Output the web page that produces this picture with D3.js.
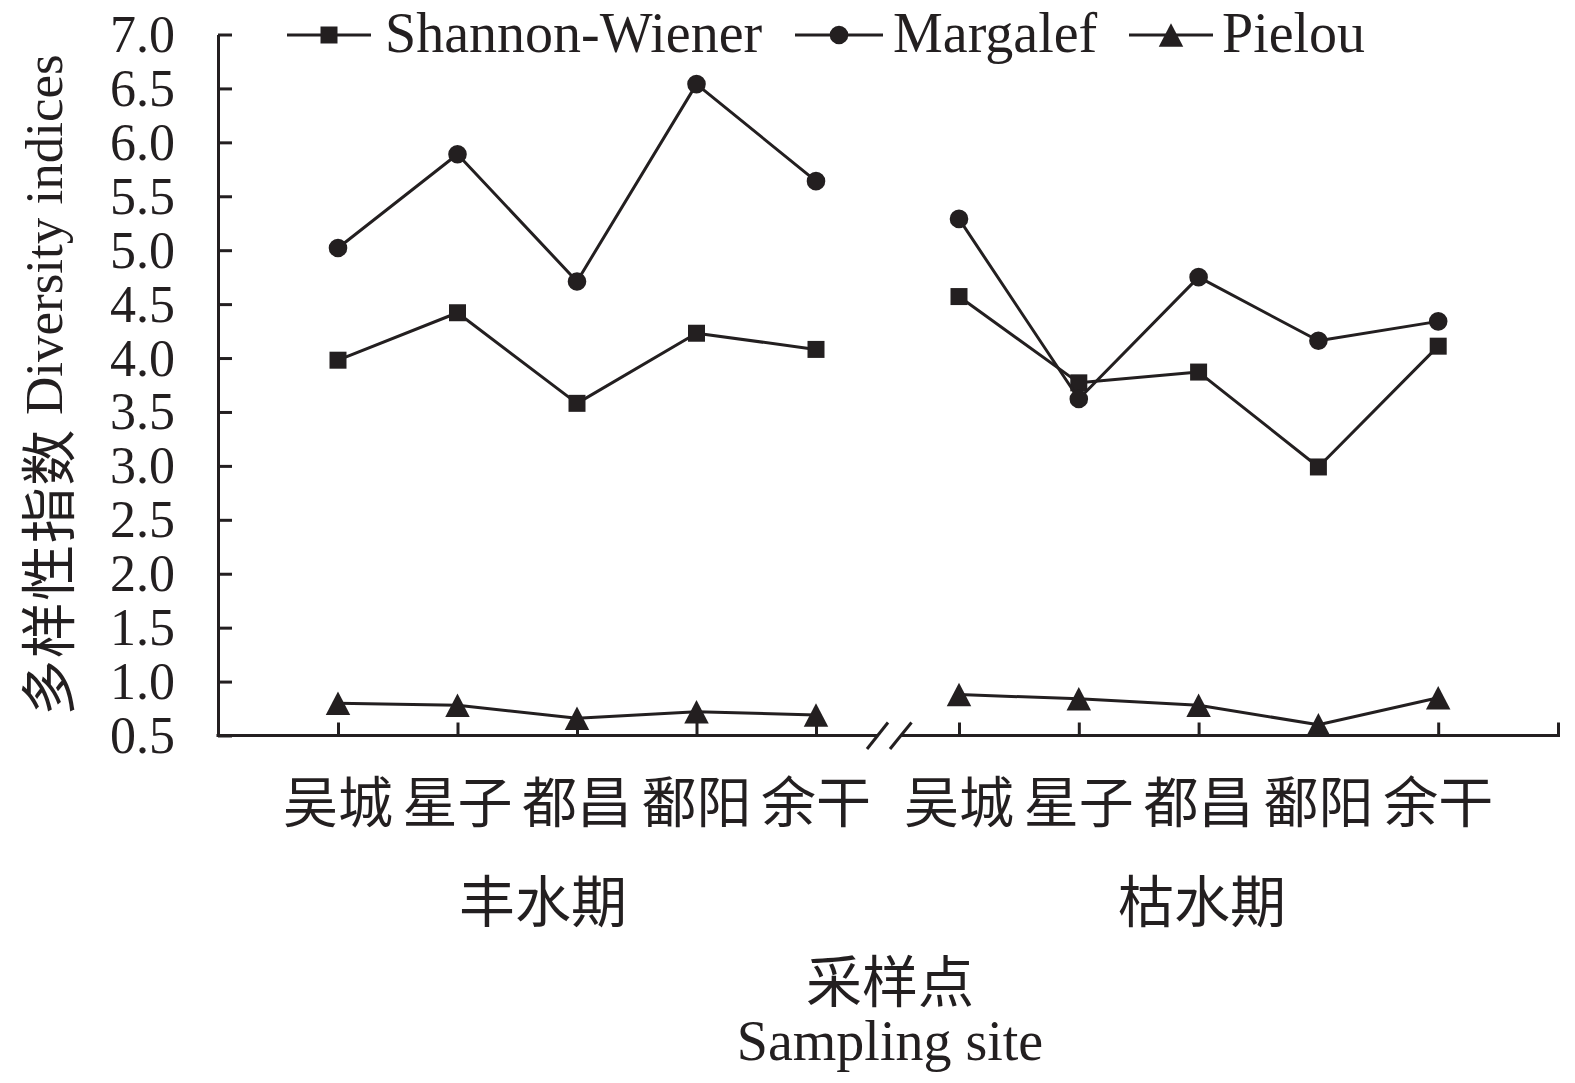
<!DOCTYPE html>
<html>
<head>
<meta charset="utf-8">
<script src="https://cdn.jsdelivr.net/npm/d3@7"></script>
<style>
  html, body { margin: 0; padding: 0; background: #fff; }
  svg { display: block; }
  text { fill: #231f20; }
</style>
</head>
<body>
<svg id="chart" width="1575" height="1083"></svg>
<script>
// ---- data ----
const sites = ["吴城", "星子", "都昌", "鄱阳", "余干"];
const periods = ["丰水期", "枯水期"];
const seriesNames = ["Shannon-Wiener", "Margalef", "Pielou"];
const shannonWet = [3.98, 4.42, 3.58, 4.23, 4.08];
const shannonDry = [4.57, 3.77, 3.87, 2.99, 4.11];
const margalefWet = [5.02, 5.89, 4.71, 6.54, 5.64];
const margalefDry = [5.29, 3.62, 4.75, 4.16, 4.34];
const pielouWet = [0.80, 0.78, 0.66, 0.72, 0.69];
const pielouDry = [0.88, 0.84, 0.78, 0.60, 0.85];
const yTicks = [0.5, 1.0, 1.5, 2.0, 2.5, 3.0, 3.5, 4.0, 4.5, 5.0, 5.5, 6.0, 6.5, 7.0];
const yTitleCn = "多样性指数";
const yTitleEn = "Diversity indices";
const xTitleCn = "采样点";
const xTitleEn = "Sampling site";

// ---- layout ----
const INK = "#231f20";
const svg = d3.select("#chart");
const axisX0 = 218, axisY0 = 735.5;
const y = d3.scaleLinear().domain([0.5, 7.0]).range([735.5, 34.5]);
const xWet = d3.scaleLinear().domain([0, 4]).range([338, 816]);
const xDry = d3.scaleLinear().domain([0, 5]).range([959, 1558]);
const serif = "'Liberation Serif','Times New Roman','Noto Sans CJK SC',serif";
const cjk = "'Noto Sans CJK SC','Liberation Serif',sans-serif";

// symbols
const triSym = {
  draw(ctx, size) {
    const w = Math.sqrt(size) * 1.02, h = Math.sqrt(size) * 0.98;
    ctx.moveTo(0, -h / 2);
    ctx.lineTo(w / 2, h / 2);
    ctx.lineTo(-w / 2, h / 2);
    ctx.closePath();
  }
};
const symbols = [
  d3.symbol().type(d3.symbolSquare).size(17 * 17),
  d3.symbol().type(d3.symbolCircle).size(Math.PI * 9.3 * 9.3),
  d3.symbol().type(triSym).size(24 * 24)
];

// ---- y axis ----
const yAxis = d3.axisRight(y).tickValues(yTicks).tickSize(14).tickSizeOuter(0).tickFormat("");
const gy = svg.append("g").attr("transform", `translate(${axisX0},0)`).call(yAxis);
gy.selectAll("path.domain").attr("stroke", INK).attr("stroke-width", 3);
gy.selectAll(".tick line").attr("stroke", INK).attr("stroke-width", 3);

svg.append("g").selectAll("text").data(yTicks).join("text")
  .attr("x", 175).attr("y", d => y(d))
  .attr("text-anchor", "end").attr("dominant-baseline", "central")
  .attr("font-family", serif).attr("font-size", 52)
  .text(d => d3.format(".1f")(d));

const yt = svg.append("text")
  .attr("transform", "translate(44,385) rotate(-90)")
  .attr("text-anchor", "middle").attr("dominant-baseline", "central");
yt.append("tspan").attr("font-family", cjk).attr("font-size", 56).attr("letter-spacing", 1.5).text(yTitleCn);
yt.append("tspan").attr("font-family", serif).attr("font-size", 53).text(" " + yTitleEn);

// ---- x axis (broken) ----
const gx = svg.append("g").attr("stroke", INK).attr("stroke-width", 3);
gx.append("line").attr("x1", axisX0 - 1.5).attr("x2", 877).attr("y1", axisY0).attr("y2", axisY0);
gx.append("line").attr("x1", 900).attr("x2", 1560).attr("y1", axisY0).attr("y2", axisY0);
gx.append("line").attr("x1", 867).attr("y1", 749).attr("x2", 888).attr("y2", 722.5);
gx.append("line").attr("x1", 890).attr("y1", 749).attr("x2", 911.5).attr("y2", 722.5);

const xAxisWet = d3.axisTop(xWet).tickValues(d3.range(5)).tickSize(13).tickSizeOuter(0).tickFormat("");
const gxw = svg.append("g").attr("transform", `translate(0,${axisY0})`).call(xAxisWet);
const xAxisDry = d3.axisTop(xDry).tickValues(d3.range(6)).tickSize(13).tickSizeOuter(0).tickFormat("");
const gxd = svg.append("g").attr("transform", `translate(0,${axisY0})`).call(xAxisDry);
[gxw, gxd].forEach(g => {
  g.selectAll("path.domain").remove();
  g.selectAll(".tick line").attr("stroke", INK).attr("stroke-width", 3);
});

// category labels
const labG = svg.append("g").attr("font-family", cjk)
  .attr("text-anchor", "middle").attr("dominant-baseline", "central");
sites.forEach((s, i) => {
  labG.append("text").attr("x", xWet(i)).attr("y", 798).attr("font-size", 55).text(s);
  labG.append("text").attr("x", xDry(i)).attr("y", 798).attr("font-size", 55).text(s);
});
labG.append("text").attr("x", 543).attr("y", 897).attr("font-size", 56).text(periods[0]);
labG.append("text").attr("x", 1202).attr("y", 897).attr("font-size", 56).text(periods[1]);
labG.append("text").attr("x", 890).attr("y", 977).attr("font-size", 56).text(xTitleCn);
svg.append("text").attr("x", 890).attr("y", 1060)
  .attr("text-anchor", "middle").attr("font-family", serif).attr("font-size", 56)
  .text(xTitleEn);

// ---- series ----
const allSeries = [
  [shannonWet, shannonDry],
  [margalefWet, margalefDry],
  [pielouWet, pielouDry]
];
const line = d3.line().x(d => d[0]).y(d => y(d[1]));
allSeries.forEach((pair, si) => {
  const g = svg.append("g");
  pair.forEach((vals, pi) => {
    const xs = pi === 0 ? xWet : xDry;
    const pts = vals.map((v, i) => [xs(i), v]);
    g.append("path").attr("d", line(pts)).attr("fill", "none")
      .attr("stroke", INK).attr("stroke-width", 3).attr("stroke-linejoin", "round");
    g.selectAll(null).data(pts).join("path")
      .attr("transform", d => `translate(${d[0]},${y(d[1])})`)
      .attr("d", symbols[si]()).attr("fill", INK);
  });
});

// ---- legend ----
const legendItems = [
  { name: seriesNames[0], x1: 287, x2: 371, tx: 385 },
  { name: seriesNames[1], x1: 795, x2: 883, tx: 893 },
  { name: seriesNames[2], x1: 1129, x2: 1213, tx: 1222 }
];
const lg = svg.append("g");
legendItems.forEach((it, i) => {
  lg.append("line").attr("x1", it.x1).attr("x2", it.x2).attr("y1", 35).attr("y2", 35)
    .attr("stroke", INK).attr("stroke-width", 3);
  lg.append("path").attr("transform", `translate(${(it.x1 + it.x2) / 2},35)`)
    .attr("d", symbols[i]()).attr("fill", INK);
  lg.append("text").attr("x", it.tx).attr("y", 52)
    .attr("font-family", serif).attr("font-size", 56).text(it.name);
});
</script>
</body>
</html>
